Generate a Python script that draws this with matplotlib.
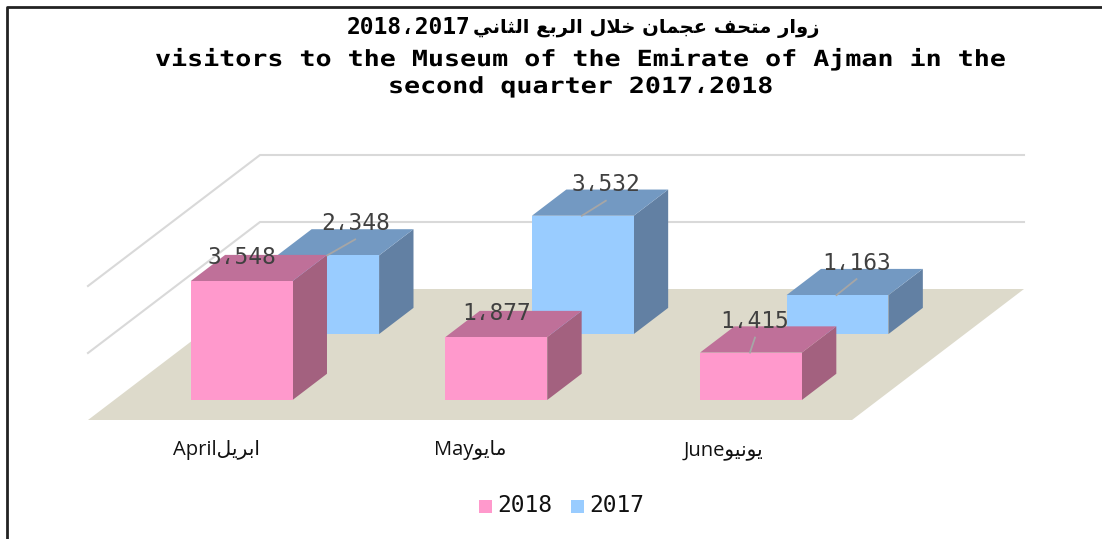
import matplotlib
matplotlib.use("Agg")
from matplotlib import pyplot as plt
from matplotlib.patheffects import AbstractPathEffect
from matplotlib.transforms import Affine2D

# chart values
months_en = ["April", "May", "June"]
months_ar = ["ابريل", "مايو", "يونيو"]
series_names = ["2018", "2017"]
values_2018 = [3548, 1877, 1415]
values_2017 = [2348, 3532, 1163]
grid_values = [2000, 4000]

title_ar = "زوار متحف عجمان خلال الربع الثاني"
title_years_ar = "2018،2017"
title_en_1 = "visitors to the Museum of the Emirate of Ajman in the"
title_en_2 = "second quarter 2017،2018"

# colours: front, top, side
pink = ["#ff99cc", "#bf7099", "#a3617f"]
blue = ["#99ccff", "#7399c2", "#6280a3"]
floor_color = "#dddacb"
grid_color = "#d9d9d9"
label_color = "#404040"

# (isolated, final, initial, medial) presentation forms, matplotlib has no Arabic shaping
FORMS = {
    "ا": "\ufe8d\ufe8e", "ر": "\ufead\ufeae", "ز": "\ufeaf\ufeb0", "و": "\ufeed\ufeee",
    "ب": "\ufe8f\ufe90\ufe91\ufe92", "ت": "\ufe95\ufe96\ufe97\ufe98", "ث": "\ufe99\ufe9a\ufe9b\ufe9c",
    "ج": "\ufe9d\ufe9e\ufe9f\ufea0", "ح": "\ufea1\ufea2\ufea3\ufea4", "خ": "\ufea5\ufea6\ufea7\ufea8",
    "ع": "\ufec9\ufeca\ufecb\ufecc", "ف": "\ufed1\ufed2\ufed3\ufed4", "ل": "\ufedd\ufede\ufedf\ufee0",
    "م": "\ufee1\ufee2\ufee3\ufee4", "ن": "\ufee5\ufee6\ufee7\ufee8", "ي": "\ufef1\ufef2\ufef3\ufef4",
}


def shape_word(word):
    out = []
    joined = False
    i = 0
    while i < len(word):
        c = word[i]
        if word[i:i + 2] == "لا":
            out.append("\ufefc" if joined else "\ufefb")
            joined = False
            i += 2
            continue
        forms = FORMS[c]
        next_ok = len(forms) == 4 and i + 1 < len(word)
        if joined and next_ok:
            out.append(forms[3])
        elif joined:
            out.append(forms[1])
        elif next_ok:
            out.append(forms[2])
        else:
            out.append(forms[0])
        joined = next_ok
        i += 1
    return "".join(out)[::-1]


def shape(text):
    return " ".join(shape_word(w) for w in text.split(" ")[::-1])


class StretchX(AbstractPathEffect):
    # widens the text from its left end, the original font is a wide one
    def __init__(self, sx):
        super().__init__()
        self.sx = sx

    def draw_path(self, renderer, gc, tpath, affine, rgbFace=None):
        renderer.draw_path(gc, tpath, Affine2D().scale(self.sx, 1) + affine, rgbFace)


def project(cat, depth, value):
    # oblique view: category along the front edge, depth into the floor, value upward
    x = 88 + 254.67 * cat + 172 * depth
    y = 420 - 131 * depth - 0.0335 * value
    return x, y


def draw_bar(ax, i, depth, value, colors):
    left, right = i + 0.3, i + 0.7
    d0, d1 = depth, depth + 0.2
    front = [project(left, d0, 0), project(right, d0, 0), project(right, d0, value), project(left, d0, value)]
    top = [project(left, d0, value), project(right, d0, value), project(right, d1, value), project(left, d1, value)]
    side = [project(right, d0, 0), project(right, d1, 0), project(right, d1, value), project(right, d0, value)]
    ax.fill(*zip(*side), color=colors[2], lw=0, zorder=3)
    ax.fill(*zip(*top), color=colors[1], lw=0, zorder=3)
    ax.fill(*zip(*front), color=colors[0], lw=0, zorder=3)


fig = plt.figure(figsize=(11.02, 5.39), dpi=100)
ax = fig.add_axes([0, 0, 1, 1])
ax.set_xlim(0, 1102)
ax.set_ylim(539, 0)
ax.axis("off")

# outer frame, only left and top are visible
ax.plot([7, 7, 1102], [539, 7, 7], color="#222222", lw=2)

# floor and gridlines
ax.fill(*zip(project(0, 0, 0), project(3, 0, 0), project(3, 1, 0), project(0, 1, 0)), color=floor_color, lw=0)
for g in grid_values:
    pts = [project(0, 0, g), project(0, 1, g), project(3, 1, g)]
    ax.plot(*zip(*pts), color=grid_color, lw=1.5, zorder=2)

# bars, back row first in each category
for i in range(3):
    draw_bar(ax, i, 0.656, values_2017[i], blue)
    draw_bar(ax, i, 0.153, values_2018[i], pink)

# data labels, offsets from the top middle of the front face
offs_2018 = [(0, -24), (0, -24), (4, -31)]
offs_2017 = [(27, -32), (23, -31), (19, -32)]
lead_2017 = [True, True, True]
lead_2018 = [False, False, True]
mono = ["DejaVu Sans Mono", "DejaVu Sans"]
for vals, offs, leads, depth in [(values_2017, offs_2017, lead_2017, 0.656),
                                 (values_2018, offs_2018, lead_2018, 0.153)]:
    for i, v in enumerate(vals):
        x, y = project(i + 0.5, depth, v)
        dx, dy = offs[i]
        if leads[i]:
            ax.plot([x - 1, x + dx], [y, y + dy + 16], color="#a6a6a6", lw=1.3, zorder=4)
        ax.text(x + dx, y + dy, f"{v:,}".replace(",", "،"), family=mono, fontsize=16.5,
                color=label_color, ha="center", va="center", zorder=5)

# month labels
month_x = [216, 470, 724]
open_sans = ["Open Sans", "DejaVu Sans"]
for x, en, ar in zip(month_x, months_en, months_ar):
    ax.text(x, 450, en + shape(ar), family=open_sans, fontsize=14.5, color="#111111", ha="center", va="center")

# title
ax.text(347, 28, title_years_ar, family=mono, weight="bold", fontsize=16.5, color="black", ha="left", va="center")
ax.text(473, 28, shape(title_ar), family="DejaVu Sans", weight="bold", fontsize=14, color="black",
        ha="left", va="center")
ax.text(155, 59, title_en_1, family=mono, weight="bold", fontsize=16, color="black", ha="left", va="center",
        path_effects=[StretchX(1.2)])
ax.text(388, 87, title_en_2, family=mono, weight="bold", fontsize=16, color="black", ha="left", va="center",
        path_effects=[StretchX(1.2)])

# legend
legend_x = [479, 571]
for x, name, colors in zip(legend_x, series_names, [pink, blue]):
    ax.fill([x, x + 13, x + 13, x], [500, 500, 513, 513], color=colors[0], lw=0)
    ax.text(x + 18, 506, name, family=mono, fontsize=16.5, color="#111111", ha="left", va="center")

fig.savefig("out.png", dpi=100, facecolor="white")
